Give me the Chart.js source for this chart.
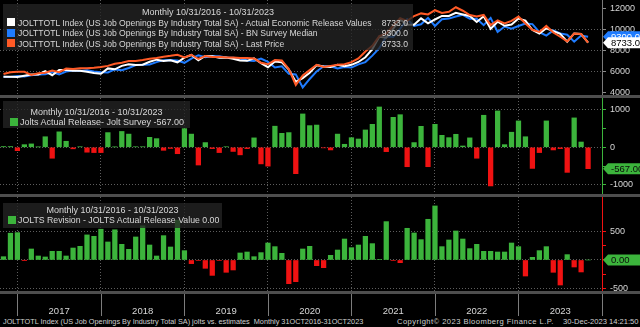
<!DOCTYPE html>
<html>
<head>
<meta charset="utf-8">
<script src="https://cdn.jsdelivr.net/npm/chart.js@4.4.1/dist/chart.umd.min.js"></script>
<style>
  html, body { margin: 0; padding: 0; background: #000; }
  #wrap { position: relative; width: 640px; height: 327px; background: #000; overflow: hidden;
          font-family: "Liberation Sans", Arial, sans-serif; color: #d8d8d8; }
  .pane { position: absolute; left: 0; width: 640px; }
  .sep { position: absolute; left: 0; width: 640px; height: 3px; background: #4e4e4e; z-index: 2; }
  .legend { position: absolute; left: 3px; background: rgba(36,36,36,0.78); z-index: 3; font-size: 9px; }
  .legend div { position: absolute; white-space: nowrap; line-height: 10px; }
  .sq { position: absolute; width: 8px; height: 8px; }
  .foot { position: absolute; top: 317px; font-size: 7.6px; line-height: 10px; white-space: nowrap; color: #d0d0d0; }
</style>
</head>
<body>
<div id="wrap">
  <div class="pane" style="top:0;height:98px"><canvas id="cTop" width="640" height="98"></canvas></div>
  <div class="pane" style="top:98px;height:96px"><canvas id="cMid" width="640" height="96"></canvas></div>
  <div class="pane" style="top:197px;height:119px"><canvas id="cBot" width="640" height="119"></canvas></div>
  <div class="sep" style="top:95px"></div>
  <div class="sep" style="top:194px"></div>
  <div class="sep" style="top:291px"></div>

  <div class="legend" style="top:4px;width:410px;height:46px;font-size:8.6px">
    <div style="top:3px;left:0;width:410px;text-align:center;font-size:9px">Monthly 10/31/2016 - 10/31/2023</div>
    <span class="sq" style="left:4px;top:14px;background:#ffffff"></span>
    <div style="top:13.5px;left:15px">JOLTTOTL Index (US Job Openings By Industry Total SA) - Actual Economic Release Values</div>
    <div style="top:13.5px;right:5px">8733.0</div>
    <span class="sq" style="left:4px;top:25px;background:#1f7cff"></span>
    <div style="top:24px;left:15px">JOLTTOTL Index (US Job Openings By Industry Total SA) - BN Survey Median</div>
    <div style="top:24px;right:5px">9300.0</div>
    <span class="sq" style="left:4px;top:35px;background:#ff5a26"></span>
    <div style="top:34.5px;left:15px">JOLTTOTL Index (US Job Openings By Industry Total SA) - Last Price</div>
    <div style="top:34.5px;right:5px">8733.0</div>
  </div>

  <div class="legend" style="top:101px;width:187px;height:27px">
    <div style="top:5.5px;left:0;width:187px;text-align:center">Monthly 10/31/2016 - 10/31/2023</div>
    <span class="sq" style="left:7px;top:17px;background:#3cb43c"></span>
    <div style="top:16px;left:17px">Jolts Actual Release- Jolt Survey -567.00</div>
  </div>

  <div class="legend" style="top:203px;width:219px;height:25px;font-size:8.75px">
    <div style="top:2px;left:0;width:219px;text-align:center;font-size:9px">Monthly 10/31/2016 - 10/31/2023</div>
    <span class="sq" style="left:5px;top:13px;background:#3cb43c"></span>
    <div style="top:12px;left:15px">JOLTS Revision - JOLTS Actual Release Value 0.00</div>
  </div>

  <div class="foot" style="left:3px;font-size:7.3px">JOLTTOTL Index (US Job Openings By Industry Total SA) jolts vs. estimates&nbsp; Monthly 31OCT2016-31OCT2023</div>
  <div class="foot" style="left:397px;letter-spacing:0.45px">Copyright© 2023 Bloomberg Finance L.P.</div>
  <div class="foot" style="left:563px">30-Dec-2023 14:21:50</div>
</div>

<script>
// month index 0 = Oct 2016 ... 84 = Oct 2023 (values plotted at month end)
const months = [];
for (let i = 0; i < 85; i++) {
    const m = (9 + i) % 12, y = 2016 + Math.floor((9 + i) / 12);
    months.push(y + '-' + String(m + 1).padStart(2, '0'));
}

const yearLabels = ['2017', '2018', '2019', '2020', '2021', '2022', '2023'];
const yearStarts = [2, 14, 26, 38, 50, 62, 74, 86];
const yearMids = [8, 20, 32, 44, 56, 68, 80];

// Actual Economic Release Values (white)
const actualRelease = [
    5534, 5522, 5501, 5626, 5743, 5743, 6044, 5666, 6163, 6170, 6082, 6093, 5996, 5879, 5811,
    6312, 6228, 6550, 6698, 6638, 6662, 6939, 7136, 7009, 7079, 6888, 7335,
    7581, 7087, 7488, 7449, 7323, 7348, 7217, 7051, 7024, 7267, 6800, 6423,
    6963, 6882, 6191, 5046, 5397, 5889, 6618, 6493, 6436, 6652, 6527, 6646,
    6917, 7367, 8123, 9286, 9209, 10073, 10934, 10439, 10438, 11033, 10562, 10925,
    11263, 11266, 11549, 11400, 11254, 10698, 11239, 10053, 10717, 10334, 10458, 11012,
    10824, 9931, 9590, 10103, 9824, 9582, 8827, 9610, 9553, 8733
];
// BN Survey Median (blue)
const surveyMedian = [
    5514, 5502, 5591, 5556, 5653, 5733, 5764, 5956, 5753, 6010, 6122, 6078, 6126, 6019, 5951,
    5922, 6218, 6130, 6348, 6623, 6647, 6674, 6906, 7089, 7109, 7058, 6840,
    7231, 7557, 7363, 7484, 7463, 7333, 7327, 7251, 7059, 7017, 7240, 6923,
    6403, 6512, 5801, 5746, 4512, 5314, 6028, 6508, 6506, 6302, 6447, 6391,
    6697, 6907, 7513, 8216, 9324, 9278, 10069, 10954, 10313, 10476, 11077, 10315,
    10945, 11010, 11204, 11365, 11004, 10988, 10389, 11078, 9752, 10264, 10058, 10312,
    10544, 10491, 9730, 9403, 9894, 9617, 9492, 8830, 9413, 9300
];
// Last Price (orange)
const lastPrice = [
    5780, 5950, 6000, 5990, 5700, 5850, 5900, 6100, 5950, 6300, 6250, 6320, 6330, 6380, 6450,
    6550, 6750, 6850, 7000, 7020, 7100, 7230, 7300, 7420, 7500, 7600, 7350,
    7600, 7200, 7480, 7380, 7400, 7350, 7330, 7300, 7300, 7250, 6850, 6700,
    7100, 7050, 6250, 4750, 5650, 6150, 6650, 6450, 6550, 6650, 6700, 6900,
    7250, 7900, 8450, 9350, 9600, 10350, 11050, 10800, 11250, 11500, 11400, 11800,
    11550, 11650, 12080, 11750, 11350, 11200, 11350, 10400, 10850, 10550, 10800, 11200,
    10550, 9950, 9750, 10320, 9700, 9300, 8850, 9600, 9550, 8733
];
// Jolts Actual Release - Jolt Survey
const surprise = [
    20, 20, -90, 70, 90, 10, 280, -290, 410, 160, -40, 15, -130, -140, -140,
    390, 10, 420, 350, 15, 15, 265, 230, -80, -30, -170, 495,
    350, -470, 125, -35, -140, 15, -110, -200, -35, 250, -440, -500,
    560, 370, 390, -700, 885, 575, 590, -15, -70, 350, 80, 255,
    220, 460, 610, 1070, -115, 795, 865, -515, 125, 557, -515, 610,
    318, 256, 345, 35, 250, -290, 850, -1025, 965, 70, 400, 700,
    280, -560, -140, 700, -70, -35, -665, 780, 140, -567
];
// JOLTS Revision - JOLTS Actual Release Value
const revision = [
    58, 470, 480, -5, 193, 70, 53, 152, 152, 70, 210, 240, 440, 415, 540,
    316, 530, 275, 187, 404, 600, 263, 70, 427, 228, 700, 164,
    -64, -8, -146, -270, -8, -216, -175, 123, 140, 58, 129, 298,
    234, 117, -415, -380, 193, 240, -100, -135, 82, 175, 368, 216,
    263, 415, 287, 10, 673, -10, -47, 556, 474, 357, 714, 948,
    234, 351, 509, 368, 199, 275, 152, 152, 140, 140, 298, 234,
    -281, 47, 164, 234, -216, -439, 94, -123, -210, 0
];

const topTicks = [4000, 6000, 8000, 10000, 12000];
const midTicks = [-1000, -500, 0, 500, 1000];
const botTicks = [-500, -250, 0, 250, 500];

const FONT = '"Liberation Sans", Arial, sans-serif';
const GRID = '#5e5e5e';
const GREEN = '#3cb43c';
const RED = '#f01212';

const pts = arr => arr.map((v, i) => ({ x: i, y: v }));

function xScale() {
    return {
        type: 'linear', min: -0.5, max: 86, offset: false,
        grid: { color: GRID, lineWidth: 1, drawTicks: false, offset: false },
        border: { display: false, dash: [1, 2] },
        ticks: { display: false },
        afterBuildTicks: s => { s.ticks = yearStarts.map(v => ({ value: v })); },
        afterFit: s => { s.height = 0; }
    };
}

function yScale(min, max, ticks, gridAt, tickColor, borderColor, fmt) {
    return {
        position: 'right', min, max,
        afterBuildTicks: s => { s.ticks = ticks.map(v => ({ value: v })); },
        afterFit: s => { s.width = 38; s.paddingTop = 0; s.paddingBottom = 0; },
        grid: {
            color: c => (c.tick && gridAt.includes(c.tick.value)) ? GRID : 'rgba(0,0,0,0)',
            tickColor, tickLength: 4, drawTicks: true
        },
        border: { display: true, color: borderColor, width: 1, dash: [1, 2] },
        ticks: { color: '#d6d6d6', font: { family: FONT, size: 9 }, padding: 4, autoSkip: false, callback: fmt }
    };
}

const badges = {
    id: 'badges',
    afterDraw(chart, args, opts) {
        const { ctx, chartArea, scales: { y } } = chart;
        (opts.items || []).forEach(b => {
            const py = y.getPixelForValue(b.value);
            const x0 = chartArea.right + 1, h = 11;
            ctx.save();
            ctx.fillStyle = b.bg;
            ctx.beginPath();
            ctx.moveTo(x0, py);
            ctx.lineTo(x0 + 5, py - h / 2);
            ctx.lineTo(640, py - h / 2);
            ctx.lineTo(640, py + h / 2);
            ctx.lineTo(x0 + 5, py + h / 2);
            ctx.closePath();
            ctx.fill();
            ctx.fillStyle = b.fg;
            ctx.font = '9.5px ' + FONT;
            ctx.textBaseline = 'middle';
            ctx.fillText(b.text, x0 + 8, py + 0.5);
            ctx.restore();
        });
    }
};

const yearAxis = {
    id: 'yearAxis',
    afterDraw(chart) {
        const { ctx, chartArea, scales: { x } } = chart;
        ctx.save();
        ctx.strokeStyle = '#7c7c7c';
        ctx.lineWidth = 1;
        yearStarts.forEach(v => {
            const px = Math.round(x.getPixelForValue(v)) + 0.5;
            ctx.beginPath();
            ctx.moveTo(px, chartArea.bottom + 3);
            ctx.lineTo(px, chartArea.bottom + 25);
            ctx.stroke();
        });
        ctx.fillStyle = '#d6d6d6';
        ctx.font = '9.5px ' + FONT;
        ctx.textAlign = 'center';
        ctx.textBaseline = 'middle';
        yearLabels.forEach((lab, i) => ctx.fillText(lab, x.getPixelForValue(yearMids[i]), chartArea.bottom + 20));
        ctx.restore();
    }
};

const common = {
    responsive: false, animation: false, devicePixelRatio: 1,
    events: [],
    plugins: { legend: { display: false }, tooltip: { enabled: false } }
};

new Chart(document.getElementById('cTop'), {
    type: 'line',
    data: {
        datasets: [
            { label: 'Last Price', data: pts(lastPrice), borderColor: '#ff5a26', order: 0 },
            { label: 'Actual Economic Release Values', data: pts(actualRelease), borderColor: '#ffffff', order: 1 },
            { label: 'BN Survey Median', data: pts(surveyMedian), borderColor: '#1f7cff', order: 2 }
        ].map(d => Object.assign(d, { borderWidth: 2, pointRadius: 0, tension: 0, fill: false }))
    },
    options: Object.assign({}, common, {
        layout: { padding: { top: 0, bottom: 3, left: 0, right: 0 } },
        scales: {
            x: xScale(),
            y: yScale(3802, 12764, topTicks, [6000, 8000, 10000], '#8a8a8a', '#7a7a7a', v => String(v))
        },
        plugins: Object.assign({}, common.plugins, {
            badges: { items: [
                { value: 9300, text: '9300.0', bg: '#1f7cff', fg: '#ffffff' },
                { value: 8733, text: '8733.0', bg: '#ffffff', fg: '#000000' }
            ] }
        })
    }),
    plugins: [badges]
});

function barChart(id, values, min, max, ticks, gridAt, axisColor, fmt, badge, extra, pad) {
    return new Chart(document.getElementById(id), {
        type: 'bar',
        data: {
            datasets: [{
                data: pts(values),
                backgroundColor: c => (c.raw && c.raw.y < 0) ? RED : GREEN,
                barThickness: 4.6, borderWidth: 0
            }]
        },
        options: Object.assign({}, common, {
            layout: { padding: pad },
            scales: { x: xScale(), y: yScale(min, max, ticks, gridAt, axisColor, axisColor, fmt) },
            plugins: Object.assign({}, common.plugins, { badges: { items: [badge] } })
        }),
        plugins: [badges].concat(extra)
    });
}

barChart('cMid', surprise, -1239, 1308, midTicks, [-1000, 0, 1000], GREEN,
    v => (v % 1000 === 0 ? String(v) : ''),
    { value: -567, text: '-567.00', bg: GREEN, fg: '#0b0b0b' }, [],
    { top: 0, bottom: 0, left: 0, right: 0 });

barChart('cBot', revision, -544, 1105, botTicks, [-500, 0, 500], RED,
    v => (v % 500 === 0 ? String(v) : ''),
    { value: 0, text: '0.00', bg: GREEN, fg: '#0b0b0b' }, [yearAxis],
    { top: 0, bottom: 25, left: 0, right: 0 });
</script>
</body>
</html>
